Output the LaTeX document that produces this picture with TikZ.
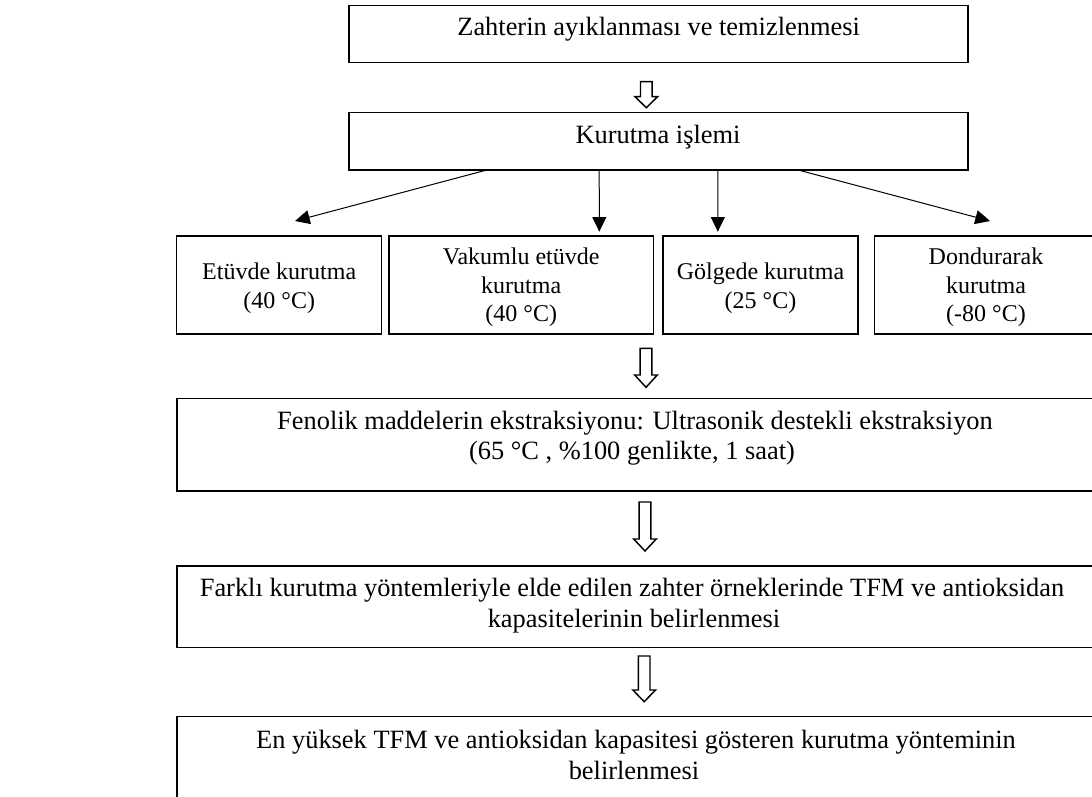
\documentclass[tikz,border=0pt]{standalone}
\usepackage{fontspec}
\setmainfont{Liberation Serif}
\usetikzlibrary{arrows.meta,fit,calc}
\newcommand\holarrow[4]{% cx, ytop, yhead, ytip
  \draw[hol] (#1-5.8,#2) -- (#1+5.8,#2) -- (#1+5.8,#3) -- (#1+11.3,#3) -- (#1,#4) -- (#1-11.3,#3) -- (#1-5.8,#3) -- cycle;}
\begin{document}
\begin{tikzpicture}[x=0.75pt,y=-0.75pt,
  box/.style={draw=black,line width=0.85pt,inner sep=0pt},
  big/.style={anchor=base,inner sep=0pt,font=\fontsize{19.8}{22}\selectfont},
  sml/.style={anchor=base,inner sep=0pt,font=\fontsize{18}{20}\selectfont},
  conn/.style={line width=0.75pt,-{Triangle[length=11pt,width=10.5pt]}},
  hol/.style={draw=black,line width=1.1pt,fill=white,line join=miter}]
\useasboundingbox (0,0) rectangle (1092,796);
\fill[white] (0,0) rectangle (1092,796);
\clip (0,0) rectangle (1092,796);

% corner coordinates
\coordinate (a1) at (349,5.5);    \coordinate (a2) at (968,62.7);
\coordinate (b1) at (349,112.7);  \coordinate (b2) at (968,170);
\coordinate (e1) at (176.7,236);  \coordinate (e2) at (381.7,334);
\coordinate (v1) at (389,236);    \coordinate (v2) at (653.3,334);
\coordinate (g1) at (663,236);    \coordinate (g2) at (858,334);
\coordinate (d1) at (874.3,236);  \coordinate (d2) at (1098,334);
\coordinate (f1) at (177,398.3);  \coordinate (f2) at (1095,491);
\coordinate (k1) at (177,566);    \coordinate (k2) at (1095,647.3);
\coordinate (n1) at (177,716.7);  \coordinate (n2) at (1095,805);

% boxes
\node[box,fit=(a1)(a2)] (A) {};
\node[box,fit=(b1)(b2)] (B) {};
\node[box,fit=(e1)(e2)] (E) {};
\node[box,fit=(v1)(v2)] (V) {};
\node[box,fit=(g1)(g2)] (G) {};
\node[box,fit=(d1)(d2)] (D) {};
\node[box,fit=(f1)(f2)] (F) {};
\node[box,fit=(k1)(k2)] (K) {};
\node[box,fit=(n1)(n2)] (N) {};

% texts
\node[big] (tA) at (658.6,36) {Zahterin ayıklanması ve temizlenmesi};
\node[big] (tB) at (658,143) {Kurutma işlemi};

\node[sml] (tE1) at (279.2,279.3) {Etüvde kurutma};
\node[sml] (tE2) at (279.2,308.3) {(40 °C)};
\node[sml] (tV1) at (521.2,264.3) {Vakumlu etüvde};
\node[sml] (tV2) at (521.2,293.3) {kurutma};
\node[sml] (tV3) at (521.2,321.7) {(40 °C)};
\node[sml] (tG1) at (760.5,279.3) {Gölgede kurutma};
\node[sml] (tG2) at (760.5,308.3) {(25 °C)};
\node[sml] (tD1) at (986,264.3) {Dondurarak};
\node[sml] (tD2) at (986,293.3) {kurutma};
\node[sml] (tD3) at (986,321.7) {(-80 °C)};

\node[big] (tF1) at (635,429.5) {Fenolik maddelerin ekstraksiyonu: Ultrasonik destekli ekstraksiyon};
\node[big] (tF2) at (632,459) {(65 °C , \%100 genlikte, 1 saat)};
\node[big] (tK1) at (632,596.5) {Farklı kurutma yöntemleriyle elde edilen zahter örneklerinde TFM ve antioksidan};
\node[big] (tK2) at (634,627.5) {kapasitelerinin belirlenmesi};
\node[big] (tN1) at (636,748) {En yüksek TFM ve antioksidan kapasitesi gösteren kurutma yönteminin};
\node[big] (tN2) at (634,779) {belirlenmesi};

% branch arrows
\coordinate (tipE) at (295,221);
\coordinate (tipV) at (599.3,231.7);
\coordinate (tipG) at (717.8,231.7);
\coordinate (tipD) at (990,221);
\draw[conn] ($(B.south west)!0.2197!(B.south east)$) -- (tipE);
\draw[conn] ($(B.south west)!0.4044!(B.south east)$) -- (tipV);
\draw[conn] ($(B.south west)!0.5958!(B.south east)$) -- (tipG);
\draw[conn] ($(B.south west)!0.7286!(B.south east)$) -- (tipD);

% hollow arrows
\holarrow{646.3}{81.7}{96.7}{107.7}
\holarrow{646}{348.3}{375}{387.3}
\holarrow{645}{502}{539}{551}
\holarrow{644.2}{656}{690}{701.7}
\end{tikzpicture}
\end{document}
